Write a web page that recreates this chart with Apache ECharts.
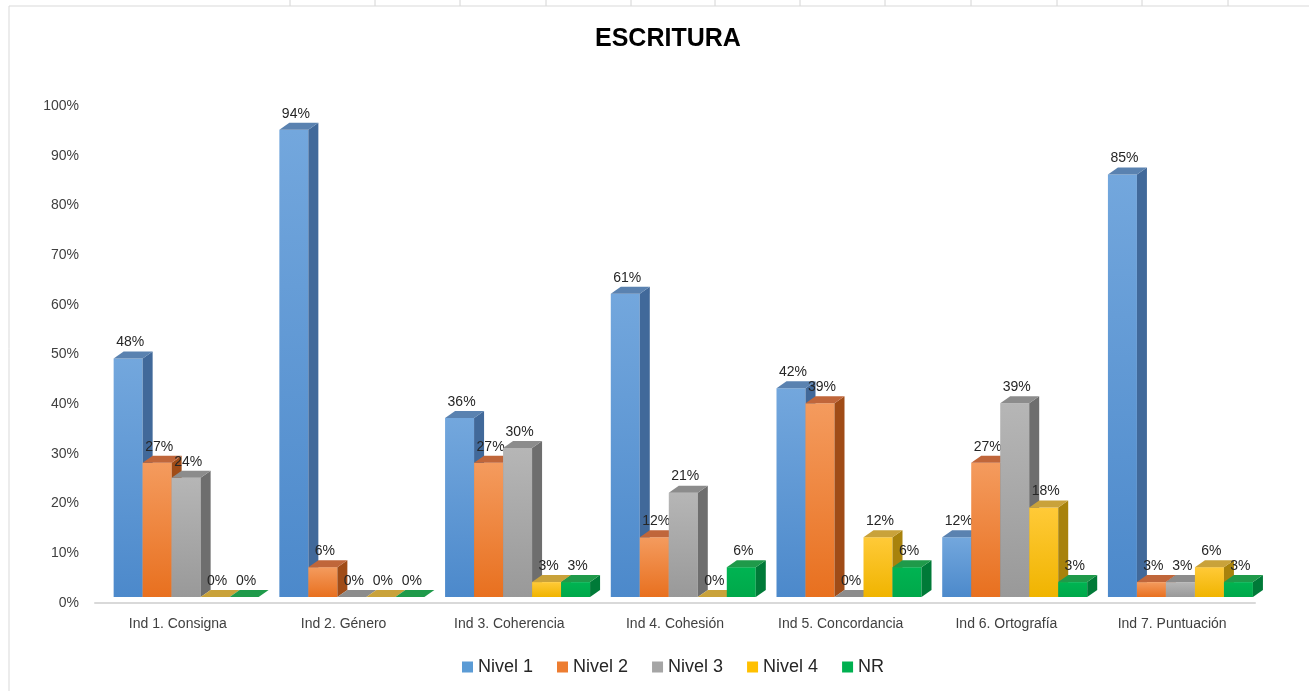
<!DOCTYPE html>
<html>
<head>
<meta charset="utf-8">
<script src="https://cdn.jsdelivr.net/npm/echarts@6/dist/echarts.min.js"></script>
<style>
  html, body {margin: 0;padding: 0;background: #fff;}
  #main {width: 1309px;height: 691px;}
</style>
</head>
<body>
<div id="main"></div>
<script>
// indicadores
const categories = ['Ind 1. Consigna', 'Ind 2. Género', 'Ind 3. Coherencia', 'Ind 4. Cohesión',
    'Ind 5. Concordancia', 'Ind 6. Ortografía', 'Ind 7. Puntuación'];
const levelNames = ['Nivel 1', 'Nivel 2', 'Nivel 3', 'Nivel 4', 'NR'];
// porcentajes por nivel
const nivel1 = [48, 94, 36, 61, 42, 12, 85];
const nivel2 = [27, 6, 27, 12, 39, 27, 3];
const nivel3 = [24, 0, 30, 21, 0, 39, 3];
const nivel4 = [0, 0, 3, 0, 12, 18, 6];
const nr = [0, 0, 3, 6, 6, 3, 3];
const yTicks = [0, 100, 10]; // min, max, interval

const levels = [nivel1, nivel2, nivel3, nivel4, nr];

// colores: frente (arriba, abajo), tapa, lateral
const palette = [
    {top: '#73a7dd', bottom: '#4c89cb', cap: '#5a82b0', side: '#41699a', legend: '#5b9bd5'},
    {top: '#f49b5e', bottom: '#e8701f', cap: '#c0663a', side: '#a04c17', legend: '#ed7d31'},
    {top: '#b6b6b6', bottom: '#999999', cap: '#8c8c8c', side: '#6e6e6e', legend: '#a5a5a5'},
    {top: '#ffca38', bottom: '#f0b400', cap: '#c9a23a', side: '#a8820c', legend: '#ffc000'},
    {top: '#00b452', bottom: '#00a84a', cap: '#1f9a4a', side: '#007a38', legend: '#00b050'}
];

const DX = 10, DY = 7, LIFT = 6;

function makeRender(idx) {
    const c = palette[idx];
    return function (params, api) {
        const cat = api.value(0);
        const val = api.value(1);
        const base = api.coord([cat, 0]);
        const top = api.coord([cat, val]);
        const band = api.size([1, 0])[0];
        const w = band * 0.175;
        const x0 = base[0] + band * 0.05 + (idx - 2.5) * w;
        const x1 = x0 + w;
        const yb = base[1] - LIFT;
        const yt = top[1] - LIFT;
        const children = [];
        if (yb - yt > 0.5) {
            children.push({
                type: 'rect',
                shape: {x: x0, y: yt, width: w, height: yb - yt},
                style: {fill: new echarts.graphic.LinearGradient(0, 0, 0, 1, [
                    {offset: 0, color: c.top}, {offset: 1, color: c.bottom}])}
            });
            children.push({
                type: 'polygon',
                shape: {points: [[x1, yt], [x1 + DX, yt - DY], [x1 + DX, yb - DY], [x1, yb]]},
                style: {fill: c.side}
            });
        }
        children.push({
            type: 'polygon',
            shape: {points: [[x0, yt], [x1, yt], [x1 + DX, yt - DY], [x0 + DX, yt - DY]]},
            style: {fill: c.cap}
        });
        children.push({
            type: 'text',
            style: {
                text: val + '%',
                x: (x0 + x1) / 2 + 2,
                y: yt - DY - 2,
                align: 'center',
                verticalAlign: 'bottom',
                fill: '#262626',
                fontSize: 14,
                fontFamily: 'Liberation Sans, Arial, sans-serif'
            }
        });
        return {type: 'group', children: children};
    };
}

const series = levels.map(function (arr, idx) {
    return {
        name: levelNames[idx],
        type: 'custom',
        renderItem: makeRender(idx),
        itemStyle: {color: palette[idx].legend},
        encode: {x: 0, y: 1},
        data: arr.map(function (v, i) { return [i, v]; })
    };
});

// lineas de la hoja de calculo
const sheetLines = [290, 375, 460, 546, 631, 715, 800, 885, 971, 1057, 1142, 1228].map(function (x) {
    return {type: 'line', shape: {x1: x, y1: 0, x2: x, y2: 6}, style: {stroke: '#d4d4d4', lineWidth: 1}};
});
sheetLines.push({type: 'line', shape: {x1: 9, y1: 6, x2: 1309, y2: 6}, style: {stroke: '#d9d9d9', lineWidth: 1}});
sheetLines.push({type: 'line', shape: {x1: 9, y1: 6, x2: 9, y2: 691}, style: {stroke: '#d9d9d9', lineWidth: 1}});

const chart = echarts.init(document.getElementById('main'));
chart.setOption({
    animation: false,
    color: palette.map(function (p) { return p.legend; }),
    title: {
        text: 'ESCRITURA',
        left: 590,
        top: 22,
        textStyle: {fontSize: 25, fontWeight: 'bold', color: '#000', fontFamily: 'Liberation Sans, Arial, sans-serif'}
    },
    legend: {
        data: levelNames,
        bottom: 10,
        left: 457,
        icon: 'rect',
        itemWidth: 11,
        itemHeight: 11,
        itemGap: 24,
        textStyle: {fontSize: 18, color: '#262626', fontFamily: 'Liberation Sans, Arial, sans-serif'}
    },
    grid: {left: 95, right: 54, top: 106, bottom: 88},
    xAxis: {
        type: 'category',
        data: categories,
        axisLine: {lineStyle: {color: '#d9d9d9', width: 2}},
        axisTick: {show: false},
        axisLabel: {fontSize: 14, color: '#404040', margin: 14, fontFamily: 'Liberation Sans, Arial, sans-serif'}
    },
    yAxis: {
        type: 'value',
        min: yTicks[0],
        max: yTicks[1],
        interval: yTicks[2],
        axisLine: {show: false},
        axisTick: {show: false},
        splitLine: {show: false},
        axisLabel: {formatter: '{value}%', fontSize: 14, color: '#404040', margin: 16, fontFamily: 'Liberation Sans, Arial, sans-serif'}
    },
    graphic: sheetLines,
    series: series
});
</script>
</body>
</html>
